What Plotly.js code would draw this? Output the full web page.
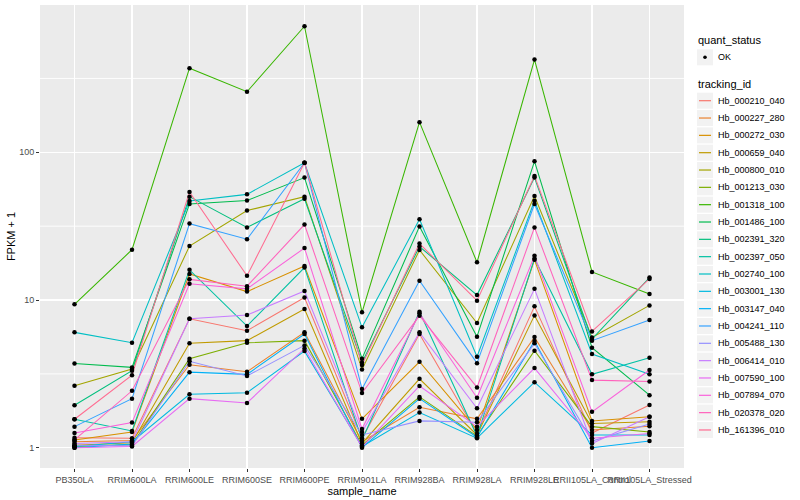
<!DOCTYPE html>
<html>
<head>
<meta charset="utf-8">
<script src="https://cdn.plot.ly/plotly-3.0.1.min.js"></script>
<style>html,body{margin:0;padding:0;background:#fff;}#chart{width:800px;height:500px;}</style>
</head>
<body>
<div id="chart"></div>
<script>
// ---- data ----
const categories = ["PB350LA","RRIM600LA","RRIM600LE","RRIM600SE","RRIM600PE","RRIM901LA","RRIM928BA","RRIM928LA","RRIM928LE","RRII105LA_Control","RRII105LA_Stressed"];
const seriesNames = ["Hb_000210_040","Hb_000227_280","Hb_000272_030","Hb_000659_040","Hb_000800_010","Hb_001213_030","Hb_001318_100","Hb_001486_100","Hb_002391_320","Hb_002397_050","Hb_002740_100","Hb_003001_130","Hb_003147_040","Hb_004241_110","Hb_005488_130","Hb_006414_010","Hb_007590_100","Hb_007894_070","Hb_020378_020","Hb_161396_010"];
const hb_000210_040 = [1.17, 1.16, 7.47, 6.20, 10.4, 1.16, 5.89, 1.25, 9.06, 1.26, 1.95];
const hb_000227_280 = [1.10, 1.12, 3.65, 3.27, 6.04, 1.10, 1.88, 1.57, 5.61, 1.32, 1.40];
const hb_000272_030 = [1.13, 1.28, 15.0, 11.4, 17.0, 1.57, 3.82, 1.32, 18.7, 1.52, 1.62];
const hb_000659_040 = [1.04, 1.08, 5.09, 5.31, 8.69, 1.07, 2.93, 1.22, 7.87, 1.46, 1.50];
const hb_000800_010 = [2.63, 3.41, 23.2, 40.3, 50.1, 3.39, 21.8, 6.98, 50.6, 5.58, 9.2];
const hb_001213_030 = [1.02, 1.05, 4.01, 5.14, 5.31, 1.04, 2.21, 1.20, 4.54, 1.39, 1.28];
const hb_001318_100 = [9.35, 21.9, 371, 257, 713, 8.26, 160, 18.0, 424, 15.5, 11.0];
const hb_001486_100 = [3.72, 3.50, 44.7, 47.1, 67.4, 4.01, 31.5, 5.65, 86.9, 4.76, 2.27];
const hb_002391_320 = [1.94, 3.32, 50.1, 31.0, 48.5, 3.78, 23.0, 10.8, 67.4, 5.44, 14.2];
const hb_002397_050 = [1.56, 1.30, 16.0, 6.67, 16.6, 1.13, 8.34, 1.20, 19.1, 3.14, 4.07];
const hb_002740_100 = [6.04, 5.14, 46.8, 51.9, 85.0, 6.53, 35.2, 4.13, 47.0, 4.31, 3.14];
const hb_003001_130 = [1.02, 1.10, 2.30, 2.36, 4.51, 1.02, 1.73, 1.16, 2.78, 1.22, 1.22];
const hb_003147_040 = [1.00, 1.06, 3.25, 3.14, 5.89, 1.00, 2.15, 1.18, 5.28, 1.00, 1.11];
const hb_004241_110 = [1.39, 2.15, 32.9, 25.8, 85.0, 2.50, 13.5, 3.74, 44.7, 5.31, 7.32];
const hb_005488_130 = [1.04, 1.03, 3.85, 3.06, 4.93, 1.22, 1.52, 1.49, 5.09, 1.11, 1.45];
const hb_006414_010 = [1.07, 1.10, 7.47, 7.91, 11.5, 1.28, 6.04, 1.85, 11.9, 1.07, 1.62];
const hb_007590_100 = [1.00, 1.02, 2.15, 2.01, 4.70, 1.01, 2.62, 1.39, 3.46, 1.16, 1.25];
const hb_007894_070 = [1.26, 1.48, 12.9, 11.9, 22.5, 1.34, 8.13, 2.18, 19.9, 1.75, 3.36];
const hb_020378_020 = [1.13, 2.43, 13.8, 12.4, 32.4, 2.35, 7.83, 2.56, 31.0, 2.87, 2.81];
const hb_161396_010 = [1.56, 3.10, 53.9, 14.6, 85.0, 3.63, 24.1, 9.9, 69.2, 6.13, 13.9];
const yTickVals = [1, 10, 100];
const yTickText = ["1", "10", "100"];
const yMinorVals = [3.162, 31.62, 316.2];
const statusLevels = ["OK"];

const seriesValues = [hb_000210_040, hb_000227_280, hb_000272_030, hb_000659_040, hb_000800_010, hb_001213_030, hb_001318_100, hb_001486_100, hb_002391_320, hb_002397_050, hb_002740_100, hb_003001_130, hb_003147_040, hb_004241_110, hb_005488_130, hb_006414_010, hb_007590_100, hb_007894_070, hb_020378_020, hb_161396_010];
const palette = ["#F8766D","#EA8331","#D89000","#C09B00","#A3A500","#7CAE00","#39B600","#00BB4E","#00BF7D","#00C1A3","#00BFC4","#00BAE0","#00B0F6","#35A2FF","#9590FF","#C77CFF","#E76BF3","#FA62DB","#FF62BC","#FF6C91"];

const L = 40, R = 684, T = 5, B = 468;
const yRange = [-0.137, 2.997];

const traces = [];
seriesNames.forEach((name, i) => {
  traces.push({
    type: "scatter", mode: "lines", name: name,
    x: categories, y: seriesValues[i],
    line: {color: palette[i], width: 1.05},
    showlegend: false, hoverinfo: "skip"
  });
});
const px = [], py = [];
seriesValues.forEach(v => { categories.forEach((c, j) => { px.push(c); py.push(v[j]); }); });
traces.push({
  type: "scatter", mode: "markers", name: statusLevels[0],
  x: px, y: py,
  marker: {color: "#000000", size: 4.5, symbol: "circle"},
  showlegend: false, hoverinfo: "skip"
});

// ---- minor grid + legend drawn in paper coordinates ----
const fx = p => (p - L) / (R - L);
const fy = p => (B - p) / (B - T);
const FONT = "Liberation Sans, Arial, Helvetica, sans-serif";
const shapes = [], annotations = [];
yMinorVals.forEach(v => {
  const yp = (Math.log10(v) - yRange[0]) / (yRange[1] - yRange[0]);
  shapes.push({type: "line", xref: "paper", yref: "paper", x0: 0, x1: 1, y0: yp, y1: yp,
    line: {color: "#FFFFFF", width: 0.9}, layer: "below"});
});
function keyBox(cy) {
  shapes.push({type: "rect", xref: "paper", yref: "paper", x0: fx(697), x1: fx(713), y0: fy(cy + 8), y1: fy(cy - 8),
    fillcolor: "#F2F2F2", line: {width: 0}, layer: "above"});
}
function label(text, x, y, size, color) {
  annotations.push({xref: "paper", yref: "paper", x: fx(x), y: fy(y), xanchor: "left", yanchor: "middle",
    text: text, showarrow: false, font: {family: FONT, size: size, color: color}});
}
label("quant_status", 696, 40.5, 11, "#000000");
keyBox(57.3);
shapes.push({type: "circle", xref: "paper", yref: "paper", x0: fx(703.2), x1: fx(706.8), y0: fy(59.1), y1: fy(55.5),
  fillcolor: "#000000", line: {width: 0}, layer: "above"});
label(statusLevels[0], 716, 57.3, 9, "#000000");
label("tracking_id", 696, 84.5, 11, "#000000");
seriesNames.forEach((name, i) => {
  const cy = 100.7 + i * 17.33;
  keyBox(cy);
  shapes.push({type: "line", xref: "paper", yref: "paper", x0: fx(699), x1: fx(711), y0: fy(cy), y1: fy(cy),
    line: {color: palette[i], width: 1.2}, layer: "above"});
  label(name, 716, cy, 9, "#000000");
});

const layout = {
  width: 800, height: 500,
  margin: {l: L, r: 800 - R, t: T, b: 500 - B, pad: 0},
  paper_bgcolor: "#FFFFFF", plot_bgcolor: "#EBEBEB",
  font: {family: FONT, size: 9, color: "#4D4D4D"},
  showlegend: false,
  xaxis: {
    type: "category", categoryorder: "array", categoryarray: categories,
    range: [-0.6, 10.6], automargin: false,
    tickangle: 0, ticks: "outside", ticklen: 3, tickwidth: 1, tickcolor: "#333333",
    tickfont: {family: FONT, size: 9, color: "#4D4D4D"},
    showgrid: true, gridcolor: "#FFFFFF", gridwidth: 1.3, zeroline: false, showline: false,
    title: {text: "sample_name", font: {family: FONT, size: 11, color: "#000000"}, standoff: 0}
  },
  yaxis: {
    type: "log", range: yRange, automargin: false,
    tickmode: "array", tickvals: yTickVals, ticktext: yTickText,
    ticks: "outside", ticklen: 3, tickwidth: 1, tickcolor: "#333333",
    tickfont: {family: FONT, size: 9, color: "#4D4D4D"},
    showgrid: true, gridcolor: "#FFFFFF", gridwidth: 1.3, zeroline: false, showline: false,
    title: {text: "FPKM + 1", font: {family: FONT, size: 11, color: "#000000"}, standoff: 1}
  },
  shapes: shapes,
  annotations: annotations
};
Plotly.newPlot("chart", traces, layout, {staticPlot: true, displayModeBar: false});
</script>
</body>
</html>
